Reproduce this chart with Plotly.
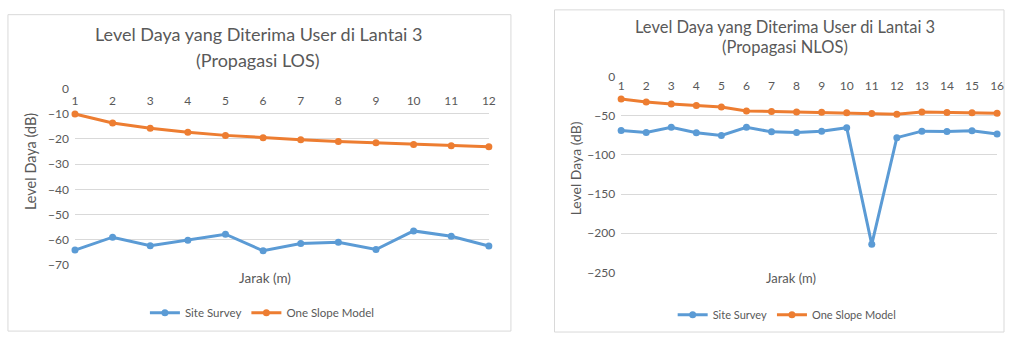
import plotly.graph_objects as go

# --- data -------------------------------------------------------------
jarak_los = list(range(1, 13))
survey_los = [-64.1, -59.0, -62.4, -60.2, -57.8, -64.4, -61.5, -61.0, -63.9, -56.5, -58.6, -62.5]
slope_los = [-10.1, -13.7, -15.8, -17.4, -18.6, -19.5, -20.3, -21.0, -21.5, -22.2, -22.7, -23.1]

jarak_nlos = list(range(1, 17))
survey_nlos = [-68.9, -71.4, -64.8, -71.8, -75.1, -64.8, -70.6, -71.4, -69.7, -65.3,
               -214.3, -78.0, -69.7, -70.1, -69.3, -73.4]
slope_nlos = [-28.7, -32.4, -34.9, -36.9, -38.9, -43.9, -44.7, -45.1, -45.5, -46.3,
              -47.2, -48.0, -45.1, -45.9, -46.3, -46.8]

title_line1 = "Level Daya yang Diterima User di Lantai 3"
title_los = "(Propagasi LOS)"
title_nlos = "(Propagasi NLOS)"
y_title = "Level Daya (dB)"
x_title = "Jarak (m)"
name_survey = "Site Survey"
name_slope = "One Slope Model"

# --- styling ----------------------------------------------------------
W, H = 1012, 340
BLUE = "#5B9BD5"
ORANGE = "#ED7D31"
GRID = "#D9D9D9"
TXT = "#595959"
FONT = "Lato"


def px(x):
    return x / W


def py(y):
    return 1 - y / H


def y_domain(top_px, bottom_px, lo, hi, pad):
    """Domain for a y axis whose [lo, hi] spans top_px..bottom_px, padded by `pad` units
    so the gridlines at both ends are still drawn."""
    scale = (bottom_px - top_px) / (hi - lo)
    return [py(bottom_px + pad * scale), py(top_px - pad * scale)], [lo - pad, hi + pad]


fig = go.Figure()


def add_series(x, y, name, color, xa, ya, legend):
    fig.add_trace(go.Scatter(
        x=x, y=y, name=name, mode="lines+markers",
        line=dict(color=color, width=3),
        marker=dict(color=color, size=7),
        xaxis=xa, yaxis=ya, legend=legend, showlegend=True,
        cliponaxis=False,
    ))


add_series(jarak_los, survey_los, name_survey, BLUE, "x", "y", "legend")
add_series(jarak_los, slope_los, name_slope, ORANGE, "x", "y", "legend")
add_series(jarak_nlos, survey_nlos, name_survey, BLUE, "x2", "y2", "legend2")
add_series(jarak_nlos, slope_nlos, name_slope, ORANGE, "x2", "y2", "legend2")

tickfont = dict(family=FONT, size=12, color=TXT)

# category labels sit just under the 0 gridline, so the x axes float there
xcommon = dict(side="top", anchor="free", showgrid=False, zeroline=False,
               showline=False, ticks="", tickfont=tickfont, tickmode="linear", dtick=1,
               ticklabelstandoff=0)
ycommon = dict(showgrid=True, gridcolor=GRID, gridwidth=1, zeroline=False, showline=False,
               ticks="", tickfont=tickfont, ticklabelstandoff=5)

dom1, rng1 = y_domain(85, 269, -70, 0, 0.2)
dom2, rng2 = y_domain(72.6, 276.7, -250, 0, 0.6)

fig.update_layout(
    width=W, height=H,
    margin=dict(l=0, r=0, t=0, b=0),
    paper_bgcolor="white", plot_bgcolor="white",
    xaxis=dict(domain=[px(72.7), px(490.7)], range=[1, 12], position=py(105), **xcommon),
    yaxis=dict(domain=dom1, range=rng1, tick0=0, dtick=10, anchor="x", **ycommon),
    xaxis2=dict(domain=[px(624.3), px(1004)], range=[1, 16], position=py(89), **xcommon),
    yaxis2=dict(domain=dom2, range=rng2, tick0=0, dtick=50, anchor="x2", **ycommon),
    legend=dict(orientation="h", x=px(262), xanchor="center", y=py(319), yanchor="middle",
                font=dict(family=FONT, size=11.5, color=TXT), bgcolor="rgba(0,0,0,0)",
                itemwidth=30),
    legend2=dict(orientation="h", x=px(792), xanchor="center", y=py(321), yanchor="middle",
                 font=dict(family=FONT, size=11, color=TXT), bgcolor="rgba(0,0,0,0)",
                 itemwidth=30),
    showlegend=True,
)

# chart frames
for x0, y0, x1, y1 in [(5, 8, 513, 338), (557, 3, 1011, 339)]:
    fig.add_shape(type="rect", xref="paper", yref="paper",
                  x0=px(x0), x1=px(x1), y0=py(y0), y1=py(y1),
                  line=dict(color=GRID, width=1), fillcolor="rgba(0,0,0,0)", layer="below")


def note(text, x, y, size, angle=0):
    fig.add_annotation(text=text, x=px(x), y=py(y), xref="paper", yref="paper",
                       showarrow=False, xanchor="center", yanchor="middle",
                       textangle=angle, font=dict(family=FONT, size=size, color=TXT))


# titles
note(title_line1, 258, 28, 18)
note(title_los, 258, 55, 18)
note(title_line1, 790, 21, 16.5)
note(title_nlos, 790, 42, 16.5)

# axis titles
note(y_title, 28, 161, 14.5, -90)
note(x_title, 265, 283, 13.5)
note(y_title, 578, 168, 14, -90)
note(x_title, 796, 283, 13)

fig.write_html("out.html")
